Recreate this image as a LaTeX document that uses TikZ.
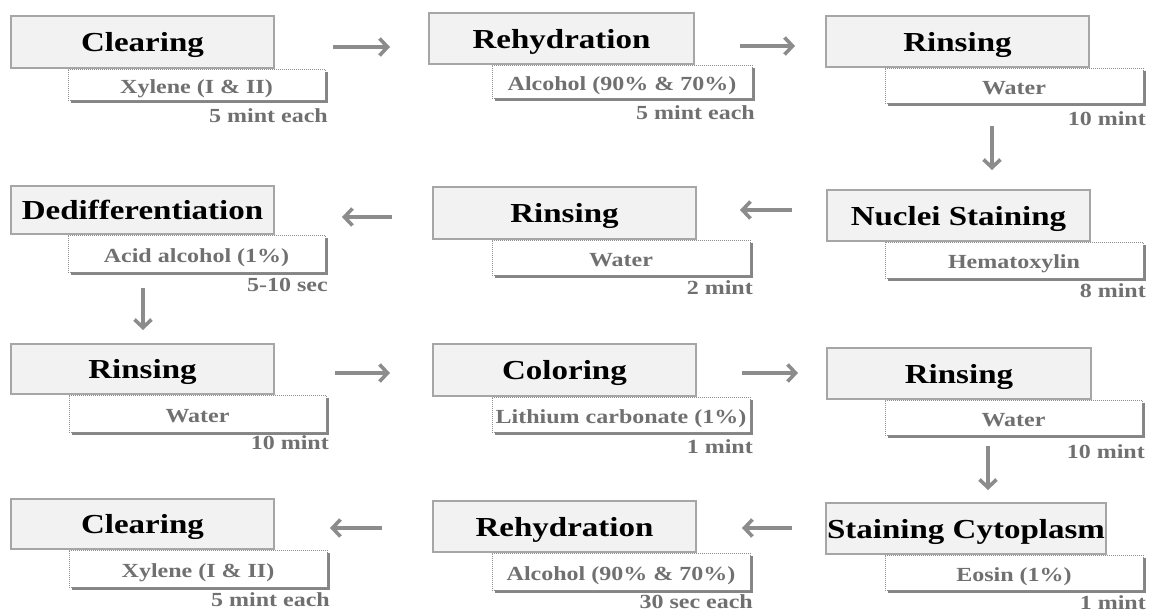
\documentclass[tikz,border=0pt]{standalone}
\usepackage{fontspec}
\setmainfont{Liberation Serif}[FakeStretch=1.2]
\usetikzlibrary{arrows.meta,shadows}
\definecolor{hdrfill}{HTML}{F2F2F2}
\definecolor{hdrline}{HTML}{A6A6A6}
\definecolor{subline}{HTML}{8F8F8F}
\definecolor{shadowgray}{HTML}{858585}
\definecolor{subtxt}{HTML}{707070}
\definecolor{arrowgray}{HTML}{8C8C8C}
\tikzset{
  hdrbox/.style={draw=hdrline, line width=2pt, fill=hdrfill, rectangle, inner sep=0pt,
    text height=19pt, text depth=0pt,
    font=\bfseries\fontsize{27.5}{30}\selectfont, text=black},
  subbox/.style={draw=subline, densely dotted, line width=1pt, fill=white, rectangle, inner sep=0pt,
    text height=17pt, text depth=0pt,
    font=\bfseries\fontsize{20}{22}\selectfont, text=subtxt,
    drop shadow={fill=shadowgray, opacity=1, shadow xshift=3pt, shadow yshift=-3pt}},
  timelbl/.style={anchor=base east, inner sep=0pt, text=subtxt,
    font=\bfseries\fontsize{20}{22}\selectfont},
  flow/.style={draw=arrowgray, line width=3.6pt, -{Straight Barb[length=8pt,width=17pt]}}
}
\newcommand\hdr[6]{%
  \node[hdrbox, minimum width={(#4-#2-2)*1pt}, minimum height={(#5-#3-2)*1pt}]
    (#1) at ({(#2+#4)/2},{(#3+#5)/2}) {#6};}
\newcommand\subbx[8]{%
  \node[subbox, minimum width={(#4-#2)*1pt}, minimum height={(#5-#3)*1pt}]
    (#1) at ({(#2+#4)/2},{(#3+#5)/2}) {#6};
  \node[timelbl] (#1t) at ({#4+3},#7) {#8};}
\begin{document}
\begin{tikzpicture}[x=1pt,y=-1pt]
\useasboundingbox (0,0) rectangle (1152,613);
% row 1
\subbx{sA1}{68}{69}{325}{100}{Xylene (I \& II)}{122}{5 mint each}
\hdr{hA1}{10}{15}{275}{69}{Clearing}
\subbx{sA2}{492}{65}{752}{98}{Alcohol (90\% \& 70\%)}{119}{5 mint each}
\hdr{hA2}{428}{12}{695}{65}{Rehydration}
\subbx{sA3}{885}{68}{1143}{103}{Water}{125}{10 mint}
\hdr{hA3}{825}{15}{1090}{68}{Rinsing}
% row 2
\subbx{sB1}{68}{235}{325}{272}{Acid alcohol (1\%)}{291}{5-10 sec}
\hdr{hB1}{10}{185}{275}{235}{Dedifferentiation}
\subbx{sB2}{492}{240}{750}{275}{Water}{294}{2 mint}
\hdr{hB2}{432}{186}{697}{240}{Rinsing}
\subbx{sB3}{885}{242}{1143}{278}{Hematoxylin}{297}{8 mint}
\hdr{hB3}{826}{189}{1091}{242}{Nuclei Staining}
% row 3
\subbx{sC1}{69}{395}{326}{432}{Water}{449}{10 mint}
\hdr{hC1}{10}{343}{275}{395}{Rinsing}
\subbx{sC2}{492}{397}{750}{432}{Lithium carbonate (1\%)}{453}{1 mint}
\hdr{hC2}{432}{343}{697}{397}{Coloring}
\subbx{sC3}{885}{400}{1142}{435}{Water}{458}{10 mint}
\hdr{hC3}{826}{347}{1092}{400}{Rinsing}
% row 4
\subbx{sD1}{69}{550}{327}{587}{Xylene (I \& II)}{606}{5 mint each}
\hdr{hD1}{10}{498}{275}{550}{Clearing}
\subbx{sD2}{492}{553}{750}{590}{Alcohol (90\% \& 70\%)}{608}{30 sec each}
\hdr{hD2}{432}{500}{697}{553}{Rehydration}
\subbx{sD3}{885}{555}{1143}{590}{Eosin (1\%)}{609}{1 mint}
\hdr{hD3}{825}{502}{1107}{555}{Staining Cytoplasm}
% arrow end points
\coordinate (a1s) at (333,47);  \coordinate (a1e) at (390,47);
\coordinate (a2s) at (740,46);  \coordinate (a2e) at (795,46);
\coordinate (a3s) at (992,126); \coordinate (a3e) at (992,170);
\coordinate (a4s) at (792,210); \coordinate (a4e) at (740,210);
\coordinate (a5s) at (392,217); \coordinate (a5e) at (342,217);
\coordinate (a6s) at (143,288); \coordinate (a6e) at (143,330);
\coordinate (a7s) at (335,373); \coordinate (a7e) at (390,373);
\coordinate (a8s) at (742,373); \coordinate (a8e) at (798,373);
\coordinate (a9s) at (988,446); \coordinate (a9e) at (988,490);
\coordinate (a10s) at (792,528); \coordinate (a10e) at (742,528);
\coordinate (a11s) at (382,528); \coordinate (a11e) at (330,528);
\foreach \i in {1,...,11} \draw[flow] (a\i s) -- (a\i e);
\end{tikzpicture}
\end{document}
